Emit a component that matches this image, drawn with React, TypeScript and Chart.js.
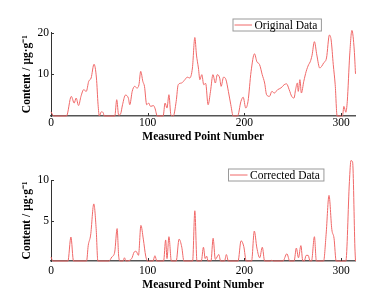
import { useEffect, useRef } from "react";
import { Chart, registerables } from "chart.js";

Chart.register(...registerables);

// ---- Data ----
const originalX = [
  0, 2, 3, 16, 21, 24, 26, 28.5, 31, 33.8, 36.5, 39, 41.5, 44.5, 47, 48.7, 50, 52, 54, 55,
  66, 68, 70, 72, 74, 77, 80, 81.5, 84, 86.5, 89, 91, 92.8, 95, 96.7, 99, 101, 103, 106, 107.5,
  110, 116, 118, 120, 122, 124, 126.5, 129.5, 131.6, 135, 138.5, 141, 143.5, 146.3, 148.8, 150.5,
  152.5, 154, 156, 158, 160, 162.5, 165, 167.5, 170, 172, 174.5, 176, 178.5, 181, 183.5, 186,
  188.5, 193, 196.5, 198.8, 201.5, 203.8, 207, 210.5, 213, 215.8, 218.5, 221, 223, 226, 228.5,
  231, 234.4, 237.8, 241.2, 243.7, 246.4, 249, 251.4, 253, 254.8, 255.8, 257.5, 259, 261.5, 264,
  266.5, 268.2, 270, 272.5, 275, 278, 280, 282, 285, 288, 289.8, 292, 294, 296, 301.5, 303, 305,
  306.5, 309, 311.3, 313.7, 315,
];
const originalY = [
  1.0, 0.2, 0, 0, 4.7, 3.1, 4.3, 2.5, 4.7, 6.3, 5.9, 8.3, 9.1, 12.4, 9.1, 2.7, 0, 1.0, 0.8, 0,
  0, 3.9, 0.2, 0.5, 2.7, 5.0, 4.3, 2.7, 5.9, 7.1, 6.7, 7.5, 10.7, 8.3, 7.1, 2.7, 3.1, 2.3, 2.5, 1.9,
  0, 0, 3.1, 1.9, 5.1, 0.3, 0, 3.5, 7.5, 7.9, 8.7, 9.3, 9.1, 11.5, 18.8, 14.6,
  11.5, 8.7, 9.9, 7.5, 7.8, 2.7, 5.9, 9.9, 7.9, 9.9, 9.1, 7.1, 9.3, 8.7, 5.9, 2.7,
  0, 0, 3.5, 4.5, 1.9, 3.5, 10.7, 14.9, 13, 12.3, 9.9, 7.9, 5.1, 4.7, 5.9,
  5.5, 6.3, 6.7, 7.5, 7.7, 6.3, 4.7, 4.3, 6.3, 7.9, 5.9, 8.7, 5.5, 8.3, 10.7,
  12.3, 13, 14.5, 17.8, 14.6, 11.5, 11.9, 12.7, 13.9, 19.4, 18.2, 12.3, 7.5, 0, 0, 2.3, 0.9,
  3.5, 14.6, 20.5, 15.8, 10.1,
];

const correctedX = [
  0, 2, 17.5, 20.6, 23.3, 36.8, 38.5, 41, 44.3, 46.7, 48.5, 59.8, 63, 65.9, 68.4, 70, 71.5,
  74.5, 76, 77.5, 83.5, 86, 88, 90.5, 93, 95.5, 98, 100, 105.5, 107.5, 109.5, 116.5, 118.6, 120,
  122, 124.5, 129.5, 132.5, 135.3, 137.5, 146.5, 148.8, 151, 155.5, 157.7, 159.5, 161, 162.5,
  165.5, 167.7, 170, 173.6, 175.5, 179.5, 181.4, 183.5, 193.5, 196.6, 199.4, 202, 207.5, 210.3,
  213, 215.9, 218.6, 221, 227, 228.5, 230, 240, 244, 247, 251.5, 253.8, 256, 258.5, 260.5, 262,
  264, 266, 268, 269.5, 272.5, 274.5, 282, 284.6, 287.6, 290.5, 292.8, 295, 305, 308.7, 310.3,
  312, 314.4, 315,
];
const correctedY = [
  0.5, 0, 0, 2.95, 0, 0, 1.9, 3.2, 7.05, 4.0, 0, 0, 0.5, 1.1, 4.0, 0.6, 0,
  0, 0.4, 0, 0.3, 1.1, 1.2, 0.7, 4.4, 2.7, 0.6, 0, 0, 0.65, 0, 0, 2.6, 0.3,
  3.0, 0, 0, 2.7, 1.7, 0, 0, 6.2, 0, 0, 1.7, 0.3, 0.6, 0,
  0, 2.8, 0.2, 0.8, 0, 0, 0.8, 0, 0, 2.5, 1.8, 0, 0, 3.7,
  1.6, 0.4, 1.7, 0, 0, 0.1, 0, 0, 0.9, 0, 0, 1.6, 0.4, 1.9, 0, 0,
  0.7, 0.7, 0, 0, 3.0, 0, 0, 3.3, 8.1, 3.9, 2.8, 0, 0, 9.8, 12.4,
  12.2, 1.6, 0,
];

const xTicks = [0, 100, 200, 300];
const originalYTicks = [10, 20];
const correctedYTicks = [5, 10];

const SERIF = '"Liberation Serif", "Times New Roman", Times, serif';
const LINE_COLOR = "rgb(240, 104, 104)";

const inwardTicks = {
  id: "inwardTicks",
  afterDraw(chart: any) {
    const { ctx, chartArea, scales } = chart;
    ctx.save();
    ctx.strokeStyle = "#333";
    ctx.lineWidth = 1;
    for (const t of scales.x.ticks) {
      if (t.value === 0) continue;
      const px = Math.round(scales.x.getPixelForValue(t.value)) + 0.5;
      ctx.beginPath();
      ctx.moveTo(px, chartArea.bottom);
      ctx.lineTo(px, chartArea.bottom - 3);
      ctx.stroke();
    }
    for (const t of scales.y.ticks) {
      const py = Math.round(scales.y.getPixelForValue(t.value)) + 0.5;
      ctx.beginPath();
      ctx.moveTo(chartArea.left, py);
      ctx.lineTo(chartArea.left + 3, py);
      ctx.stroke();
    }
    ctx.restore();
  },
};

const boxLegend = {
  id: "boxLegend",
  afterDraw(chart: any, _args: any, opts: any) {
    const { ctx } = chart;
    ctx.save();
    ctx.font = `11.5px ${SERIF}`;
    const tw = ctx.measureText(opts.label).width;
    const left = opts.left;
    const top = opts.top;
    const h = opts.height;
    const w = opts.lineLen + 4 + tw + 4;
    ctx.fillStyle = "#fff";
    ctx.fillRect(left, top, w, h);
    ctx.strokeStyle = "#9a9a9a";
    ctx.lineWidth = 1;
    ctx.strokeRect(left + 0.5, top + 0.5, w, h);
    const cy = top + h / 2 + 0.5;
    ctx.strokeStyle = LINE_COLOR;
    ctx.beginPath();
    ctx.moveTo(left + 2, cy);
    ctx.lineTo(left + 2 + opts.lineLen, cy);
    ctx.stroke();
    ctx.fillStyle = "#000";
    ctx.textBaseline = "middle";
    ctx.textAlign = "left";
    ctx.fillText(opts.label, left + 2 + opts.lineLen + 2.5, cy + 0.5);
    ctx.restore();
  },
};

type PanelProps = {
  xs: number[];
  ys: number[];
  label: string;
  yMax: number;
  yTicks: number[];
  width: number;
  height: number;
  top: number;
  plotTop: number;
  axisHeight: number;
  tickPad: number;
  titlePad: number;
  legendLeft: number;
  legendTop: number;
};

function Panel(p: PanelProps) {
  const ref = useRef<HTMLCanvasElement | null>(null);
  useEffect(() => {
    if (!ref.current) return;
    const data = p.xs.map((x, i) => ({ x, y: p.ys[i] }));
    const chart = new Chart(ref.current, {
      type: "line",
      data: {
        datasets: [
          {
            label: p.label,
            data,
            borderColor: LINE_COLOR,
            borderWidth: 1,
            pointRadius: 0,
            fill: false,
            cubicInterpolationMode: "monotone",
            clip: false,
          } as any,
        ],
      },
      options: {
        responsive: false,
        animation: false,
        events: [],
        layout: { padding: { top: p.plotTop, right: 20.5, left: 0, bottom: 0 } },
        plugins: {
          legend: { display: false },
          tooltip: { enabled: false },
          boxLegend: { label: p.label, left: p.legendLeft, top: p.legendTop, height: 12, lineLen: 17.5 },
        } as any,
        scales: {
          x: {
            type: "linear",
            min: 0,
            max: 315,
            z: 1,
            grid: { display: false, drawTicks: false },
            border: { display: true, color: "#555", width: 1.5 },
            ticks: {
              includeBounds: false,
              padding: p.tickPad,
              color: "#000",
              font: { family: SERIF, size: 11.5 },
              maxRotation: 0,
            },
            title: {
              display: true,
              text: "Measured Point Number",
              color: "#000",
              font: { family: SERIF, size: 11.5, weight: "bold" },
              padding: { top: 0, bottom: p.titlePad },
            },
            afterBuildTicks: (s: any) => {
              s.ticks = xTicks.map((v) => ({ value: v }));
            },
            afterFit: (s: any) => {
              s.height = p.axisHeight;
            },
          },
          y: {
            type: "linear",
            min: 0,
            max: p.yMax,
            z: 1,
            grid: { display: false, drawTicks: false },
            border: { display: true, color: "#333", width: 1 },
            ticks: {
              includeBounds: false,
              padding: 2,
              color: "#000",
              font: { family: SERIF, size: 11.5 },
            },
            title: {
              display: true,
              text: "Content / μg·g⁻¹",
              color: "#000",
              font: { family: SERIF, size: 11.5, weight: "bold" },
              padding: { top: 20, bottom: 0 },
            },
            afterBuildTicks: (s: any) => {
              s.ticks = p.yTicks.map((v) => ({ value: v }));
            },
            afterFit: (s: any) => {
              s.width = 51;
            },
          },
        },
      } as any,
      plugins: [inwardTicks, boxLegend],
    });
    return () => chart.destroy();
  }, []);
  return (
    <canvas
      ref={ref}
      width={p.width}
      height={p.height}
      style={{ position: "absolute", left: 0, top: p.top, width: p.width, height: p.height }}
    />
  );
}

export default function App() {
  return (
    <div
      style={{
        position: "fixed",
        left: 0,
        top: 0,
        width: 376,
        height: 297,
        background: "#fff",
        overflow: "hidden",
      }}
    >
      <Panel
        xs={originalX}
        ys={originalY}
        label="Original Data"
        yMax={20}
        yTicks={originalYTicks}
        width={376}
        height={148}
        top={0}
        plotTop={32.5}
        axisHeight={32}
        tickPad={0.5}
        titlePad={4.4}
        legendLeft={232.5}
        legendTop={18.5}
      />
      <Panel
        xs={correctedX}
        ys={correctedY}
        label="Corrected Data"
        yMax={10}
        yTicks={correctedYTicks}
        width={376}
        height={149}
        top={148}
        plotTop={32}
        axisHeight={36}
        tickPad={3.4}
        titlePad={5.4}
        legendLeft={228}
        legendTop={20.5}
      />
    </div>
  );
}
